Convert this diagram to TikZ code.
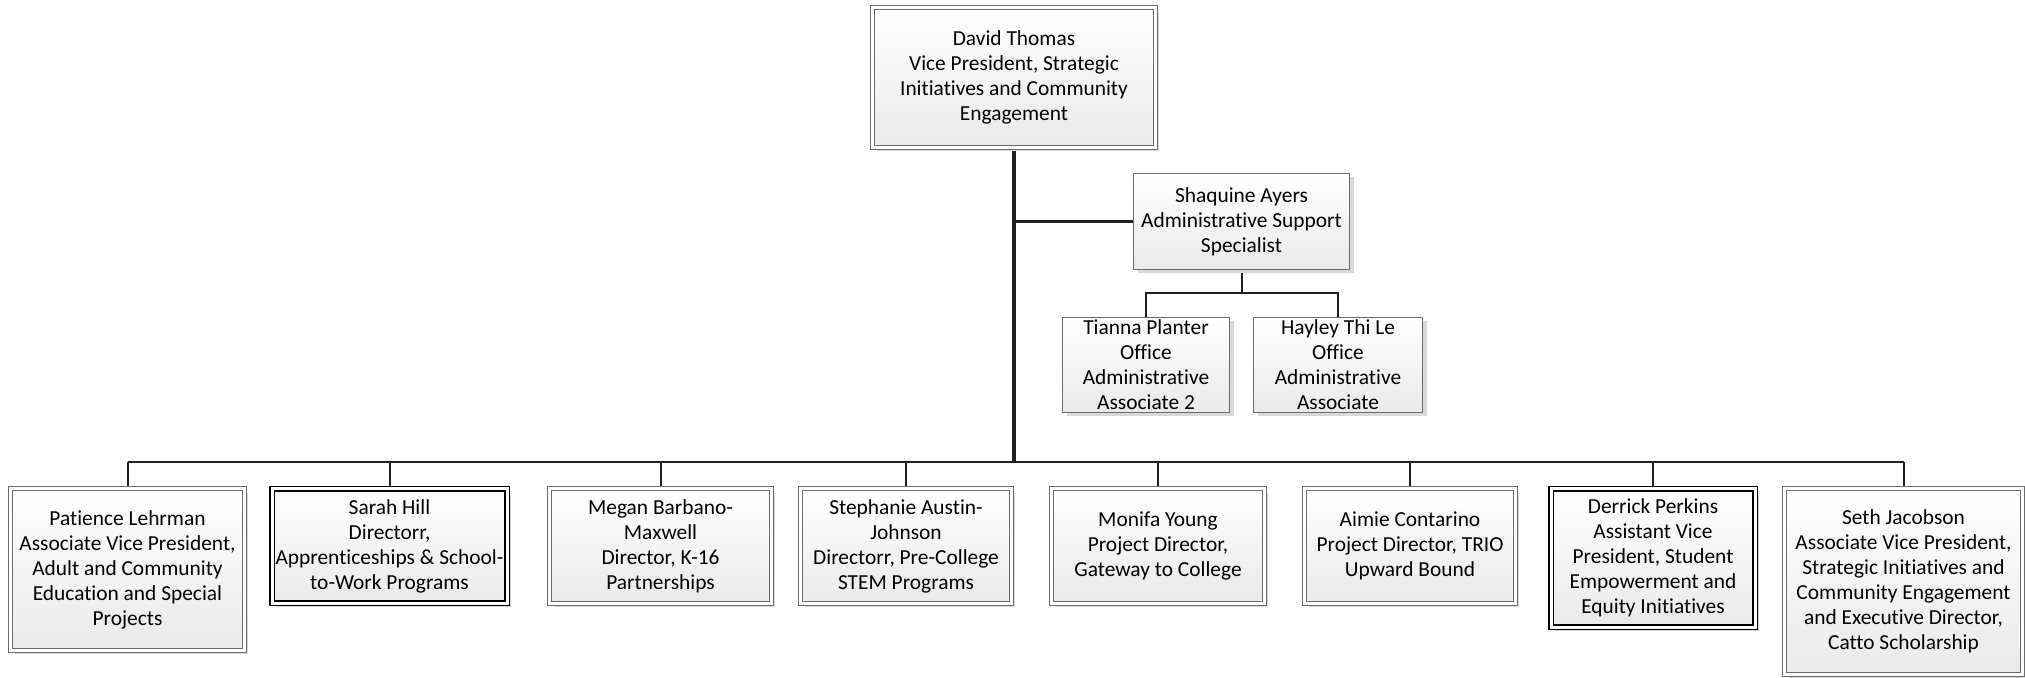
\documentclass[tikz,border=0pt]{standalone}
\usepackage{fontspec}
\setmainfont{Carlito}[Ligatures=NoCommon]
\usepackage{xcolor}
\usetikzlibrary{shadows,backgrounds}

\begin{document}
\begin{tikzpicture}[x=0.5pt,y=-0.5pt,
    card/.style={draw=gray!85!black, line width=0.5pt, double=white, double distance=1.6pt,
      top color=white, bottom color=gray!17, align=center, inner sep=0pt,
      font=\fontsize{10.7}{12.5}\selectfont,
      drop shadow={shadow xshift=2pt, shadow yshift=-2pt, fill=gray!30, opacity=1}},
    darkcard/.style={card, draw=black, line width=0.75pt, double distance=1.5pt},
    plaincard/.style={card, line width=0.6pt, double=none},
    link/.style={draw=gray!25!black, line width=1pt},
    trunk/.style={link, line width=1.8pt}]
  \useasboundingbox (0,0) rectangle (2025,678);

  \node[card, minimum width=141.4pt, minimum height=69.9pt] (vp) at (1014,77.5)
    {David Thomas\\Vice President, Strategic\\Initiatives and Community\\Engagement};
  \node[plaincard, minimum width=108pt, minimum height=48pt] (asst) at (1241.5,221.5)
    {Shaquine Ayers\\Administrative Support\\Specialist};
  \node[plaincard, minimum width=83.5pt, minimum height=47.5pt] (tianna) at (1146,365)
    {Tianna Planter\\Office\\Administrative\\Associate 2};
  \node[plaincard, minimum width=84.5pt, minimum height=47.5pt] (hayley) at (1338,365)
    {Hayley Thi Le\\Office\\Administrative\\Associate};

  % bottom row
  \node[card, minimum width=116.9pt, minimum height=80.9pt] (patience) at (127.5,569.5)
    {Patience Lehrman\\Associate Vice President,\\Adult and Community\\Education and Special\\Projects};
  \node[darkcard, minimum width=117.5pt, minimum height=57pt] (sarah) at (389.5,546)
    {Sarah Hill\\Directorr,\\Apprenticeships \& School-\\to-Work Programs};
  \node[card, minimum width=110.9pt, minimum height=57.4pt] (megan) at (660.5,546)
    {Megan Barbano-\\Maxwell\\Director, K-16\\Partnerships};
  \node[card, minimum width=105.4pt, minimum height=57.4pt] (stephanie) at (906,546)
    {Stephanie Austin-\\Johnson\\Directorr, Pre-College\\STEM Programs};
  \node[card, minimum width=106.4pt, minimum height=57.4pt] (monifa) at (1158,546)
    {Monifa Young\\Project Director,\\Gateway to College};
  \node[card, minimum width=105.4pt, minimum height=57.4pt] (aimie) at (1410,546)
    {Aimie Contarino\\Project Director, TRIO\\Upward Bound};
  \node[darkcard, minimum width=102pt, minimum height=69pt] (derrick) at (1653,558)
    {Derrick Perkins\\Assistant Vice\\President, Student\\Empowerment and\\Equity Initiatives};
  \node[card, minimum width=118.9pt, minimum height=92.9pt] (seth) at (1903.5,581.5)
    {Seth Jacobson\\Associate Vice President,\\Strategic Initiatives and\\Community Engagement\\and Executive Director,\\Catto Scholarship};

  \coordinate (bus) at (1014,462);
  \coordinate (asstbus) at (1241.5,293);

  \begin{pgfonlayer}{background}
    \draw[trunk] (vp.south) -- (bus);
    \draw[link, line width=1.3pt] (vp.south |- asst) -- (asst.west);
    \draw[link] (asst.south) -- (asstbus);
    \draw[link] (tianna.north) |- (asstbus) -| (hayley.north);
    \draw[link] (patience.north |- bus) -- (seth.north |- bus);
    \foreach \n in {patience,sarah,megan,stephanie,monifa,aimie,derrick,seth}{
      \draw[link] (\n.north |- bus) -- (\n.north);
    }
  \end{pgfonlayer}
\end{tikzpicture}
\end{document}
